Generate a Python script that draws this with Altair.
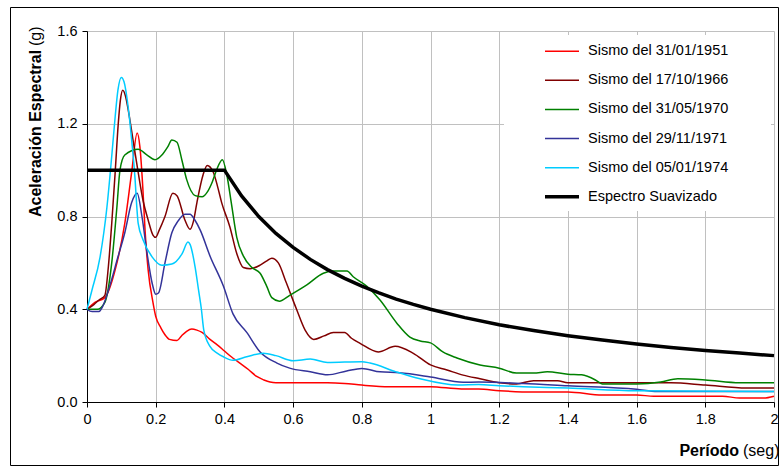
import altair as alt
import pandas as pd

names = ["Sismo del 31/01/1951", "Sismo del 17/10/1966", "Sismo del 31/05/1970",
         "Sismo del 29/11/1971", "Sismo del 05/01/1974", "Espectro Suavizado"]
colors = ["#FF0000", "#800000", "#008000", "#333399", "#00CCFF", "#000000"]
widths = [1.5, 1.5, 1.5, 1.5, 1.5, 3.5]

x_ticks = [0, 0.2, 0.4, 0.6, 0.8, 1.0, 1.2, 1.4, 1.6, 1.8, 2.0]
y_ticks = [0.0, 0.4, 0.8, 1.2, 1.6]

t_1951 = [0, 0.023, 0.052, 0.082, 0.11, 0.13, 0.146, 0.154, 0.163, 0.169, 0.178, 0.192, 0.20,
          0.215, 0.227, 0.24, 0.262, 0.275, 0.29, 0.305, 0.32, 0.335, 0.358, 0.38, 0.40, 0.42,
          0.445, 0.47, 0.494, 0.515, 0.533, 0.55, 0.70, 0.75, 0.80, 0.88, 1.0, 1.09, 1.14, 1.2,
          1.3, 1.4, 1.5, 1.6, 1.65, 1.85, 1.9, 1.97, 2.0]
a_1951 = [0.40, 0.43, 0.45, 0.57, 0.77, 0.99, 1.16, 1.10, 0.91, 0.74, 0.57, 0.43, 0.37,
          0.32, 0.29, 0.27, 0.265, 0.285, 0.305, 0.315, 0.31, 0.30, 0.27, 0.245, 0.22, 0.195,
          0.168, 0.14, 0.11, 0.095, 0.086, 0.083, 0.083, 0.08, 0.073, 0.066, 0.066, 0.056, 0.056, 0.049,
          0.043, 0.043, 0.03, 0.03, 0.025, 0.025, 0.017, 0.017, 0.025]

t_1966 = [0, 0.02, 0.035, 0.052, 0.062, 0.072, 0.082, 0.091, 0.097, 0.104, 0.112, 0.12, 0.135,
          0.149, 0.163, 0.178, 0.192, 0.20, 0.21, 0.227, 0.25, 0.262, 0.285, 0.30, 0.31, 0.32,
          0.338, 0.35, 0.368, 0.38, 0.392, 0.416, 0.436, 0.455, 0.475, 0.504, 0.525, 0.538, 0.557,
          0.58, 0.61, 0.635, 0.66, 0.69, 0.717, 0.75, 0.77, 0.795, 0.848, 0.897, 0.95, 1.0,
          1.048, 1.095, 1.144, 1.2, 1.25, 1.30, 1.37, 1.4, 1.7, 1.8, 1.92, 2.0]
a_1966 = [0.40, 0.42, 0.44, 0.46, 0.58, 0.77, 0.99, 1.20, 1.30, 1.345, 1.32, 1.26, 1.12,
          0.99, 0.87, 0.785, 0.72, 0.71, 0.74, 0.80, 0.90, 0.89, 0.785, 0.745, 0.78, 0.86,
          0.98, 1.02, 0.99, 0.93, 0.86, 0.755, 0.64, 0.58, 0.575, 0.59, 0.61, 0.62, 0.60,
          0.515, 0.40, 0.31, 0.27, 0.285, 0.30, 0.30, 0.275, 0.253, 0.216, 0.24, 0.21, 0.16,
          0.138, 0.116, 0.10, 0.083, 0.078, 0.092, 0.092, 0.083, 0.083, 0.073, 0.06, 0.06]

t_1970 = [0, 0.03, 0.052, 0.072, 0.087, 0.096, 0.11, 0.149, 0.175, 0.198, 0.218, 0.235, 0.247,
          0.262, 0.276, 0.29, 0.315, 0.335, 0.35, 0.365, 0.377, 0.394, 0.407, 0.42, 0.436, 0.455,
          0.48, 0.504, 0.523, 0.538, 0.56, 0.59, 0.64, 0.688, 0.717, 0.757, 0.775, 0.814, 0.853,
          0.902, 0.94, 0.97, 1.0, 1.036, 1.077, 1.144, 1.2, 1.25, 1.3, 1.34, 1.4, 1.44, 1.48, 1.5,
          1.6, 1.67, 1.72, 1.8, 1.9, 2.0]
a_1970 = [0.40, 0.40, 0.43, 0.60, 0.84, 1.0, 1.065, 1.09, 1.065, 1.045, 1.065, 1.10, 1.13,
          1.12, 1.045, 0.96, 0.89, 0.885, 0.905, 0.95, 1.0, 1.045, 0.98, 0.86, 0.71, 0.63,
          0.58, 0.555, 0.50, 0.45, 0.435, 0.46, 0.505, 0.555, 0.565, 0.565, 0.54, 0.50, 0.44,
          0.34, 0.28, 0.263, 0.255, 0.216, 0.19, 0.16, 0.146, 0.125, 0.125, 0.13, 0.12, 0.117, 0.095, 0.078,
          0.078, 0.086, 0.10, 0.095, 0.083, 0.083]

t_1971 = [0, 0.015, 0.035, 0.045, 0.062, 0.09, 0.11, 0.13, 0.146, 0.16, 0.175, 0.19, 0.20, 0.208,
          0.227, 0.247, 0.265, 0.285, 0.30, 0.314, 0.33, 0.358, 0.397, 0.425, 0.465, 0.504, 0.553,
          0.59, 0.65, 0.70, 0.756, 0.80, 0.853, 0.91, 1.0, 1.095, 1.14, 1.27, 1.4, 1.6, 1.66, 2.0]
a_1971 = [0.40, 0.39, 0.39, 0.41, 0.48, 0.625, 0.73, 0.86, 0.90, 0.80, 0.64, 0.51, 0.465, 0.47,
          0.60, 0.73, 0.78, 0.81, 0.81, 0.785, 0.74, 0.63, 0.50, 0.38, 0.30, 0.216, 0.168,
          0.146, 0.13, 0.117, 0.134, 0.145, 0.13, 0.126, 0.108, 0.085, 0.086, 0.08, 0.07, 0.055, 0.045, 0.045]

t_1974 = [0, 0.014, 0.038, 0.058, 0.072, 0.082, 0.09, 0.10, 0.108, 0.12, 0.13, 0.14, 0.145, 0.149,
          0.163, 0.19, 0.218, 0.247, 0.277, 0.294, 0.30, 0.315, 0.325, 0.333, 0.34, 0.358, 0.38,
          0.397, 0.425, 0.465, 0.513, 0.55, 0.60, 0.65, 0.70, 0.80, 0.824, 0.90, 0.97, 1.08, 1.14,
          1.2, 1.27, 1.4, 1.6, 2.0]
a_1974 = [0.40, 0.48, 0.625, 0.84, 1.06, 1.23, 1.345, 1.40, 1.38, 1.27, 1.13, 0.96, 0.84, 0.77,
          0.70, 0.625, 0.59, 0.595, 0.64, 0.69, 0.68, 0.58, 0.48, 0.40, 0.31, 0.24, 0.21,
          0.195, 0.18, 0.195, 0.21, 0.20, 0.178, 0.185, 0.17, 0.174, 0.168, 0.13, 0.10, 0.073, 0.075,
          0.07, 0.066, 0.06, 0.048, 0.045]

t_suav = [0, 0.4, 0.45, 0.5, 0.55, 0.6, 0.65, 0.7, 0.75, 0.8, 0.85, 0.9, 0.95, 1.0, 1.1, 1.2,
          1.3, 1.4, 1.5, 1.6, 1.7, 1.8, 1.9, 2.0]
a_suav = [1.0, 1.0, 0.889, 0.8, 0.727, 0.667, 0.615, 0.571, 0.533, 0.5, 0.471, 0.444, 0.421, 0.4,
          0.364, 0.333, 0.308, 0.286, 0.267, 0.25, 0.235, 0.222, 0.211, 0.2]

series_t = [t_1951, t_1966, t_1970, t_1971, t_1974]
series_a = [a_1951, a_1966, a_1970, a_1971, a_1974]

rows = []
for i, (ts, As) in enumerate(zip(series_t, series_a)):
    for j, (t, a) in enumerate(zip(ts, As)):
        rows.append({"serie": names[i], "T": t, "Sa": a, "k": j})
sismos = pd.DataFrame(rows)
suav = pd.DataFrame({"serie": names[5], "T": t_suav, "Sa": a_suav, "k": range(len(t_suav))})

FONT = "Liberation Sans"

xenc = alt.X("T:Q", scale=alt.Scale(domain=[0, 2], nice=False, zero=False),
             axis=alt.Axis(values=x_ticks, format="~g", title=None, labelFontSize=14.5,
                           labelFont=FONT, labelColor="black", tickColor="black", tickSize=5,
                           domainColor="black", gridColor="#C0C0C0", labelPadding=5,
                           labelFlush=False))
yenc = alt.Y("Sa:Q", scale=alt.Scale(domain=[0, 1.6], nice=False),
             axis=alt.Axis(values=y_ticks, format=".1f", title=None, labelFontSize=14.5,
                           labelFont=FONT, labelColor="black", tickColor="black", tickSize=5,
                           domainColor="black", gridColor="#C0C0C0", labelPadding=5))

legend = alt.Legend(title=None, orient="none", legendX=456, legendY=13, symbolType="stroke",
                    symbolSize=1156, labelFontSize=14.5, labelFont=FONT, labelColor="black",
                    labelOffset=7, rowPadding=13.1, clipHeight=14.5, padding=0)
color = alt.Color("serie:N", scale=alt.Scale(domain=names, range=colors), legend=legend)
swidth = alt.StrokeWidth("serie:N", scale=alt.Scale(type="ordinal", domain=names, range=widths),
                         legend=legend)

lines = alt.Chart(sismos).mark_line(interpolate="monotone").encode(
    x=xenc, y=yenc, color=color, strokeWidth=swidth, order="k:Q")
black = alt.Chart(suav).mark_line(interpolate="linear").encode(
    x=xenc, y=yenc, color=color, strokeWidth=swidth, order="k:Q")

one = pd.DataFrame({"a": [0]})
frame = alt.Chart(one).mark_rect(fillOpacity=0, stroke="black", strokeWidth=1).encode(
    x=alt.value(-76.5), x2=alt.value(691.5), y=alt.value(-23.5), y2=alt.value(434.5))
legbg = alt.Chart(one).mark_rect(fill="white").encode(
    x=alt.value(417), x2=alt.value(684), y=alt.value(4), y2=alt.value(180))

xt1 = alt.Chart(pd.DataFrame({"t": ["Período"]})).mark_text(
    font=FONT, fontSize=16, fontWeight="bold", align="right", baseline="alphabetic", color="black"
).encode(x=alt.value(652), y=alt.value(425), text="t:N")
xt2 = alt.Chart(pd.DataFrame({"t": ["(seg)"]})).mark_text(
    font=FONT, fontSize=16, align="left", baseline="alphabetic", color="black"
).encode(x=alt.value(656), y=alt.value(425), text="t:N")
yt1 = alt.Chart(pd.DataFrame({"t": ["Aceleración Espectral"]})).mark_text(
    font=FONT, fontSize=16, fontWeight="bold", align="left", baseline="alphabetic", angle=270,
    color="black"
).encode(x=alt.value(-46), y=alt.value(186), text="t:N")
yt2 = alt.Chart(pd.DataFrame({"t": ["(g)"]})).mark_text(
    font=FONT, fontSize=16, align="left", baseline="alphabetic", angle=270, color="black"
).encode(x=alt.value(-46), y=alt.value(15), text="t:N")

chart = alt.layer(frame, legbg, lines, black, xt1, xt2, yt1, yt2).properties(
    width=687, height=371,
    autosize=alt.AutoSizeParams(type="none"),
    padding={"left": 87, "top": 31, "right": 9, "bottom": 68},
    background="white",
).configure_view(stroke=None).configure_axis(gridWidth=1)

chart.save("out.html", embed_options={"renderer": "svg", "actions": False})
